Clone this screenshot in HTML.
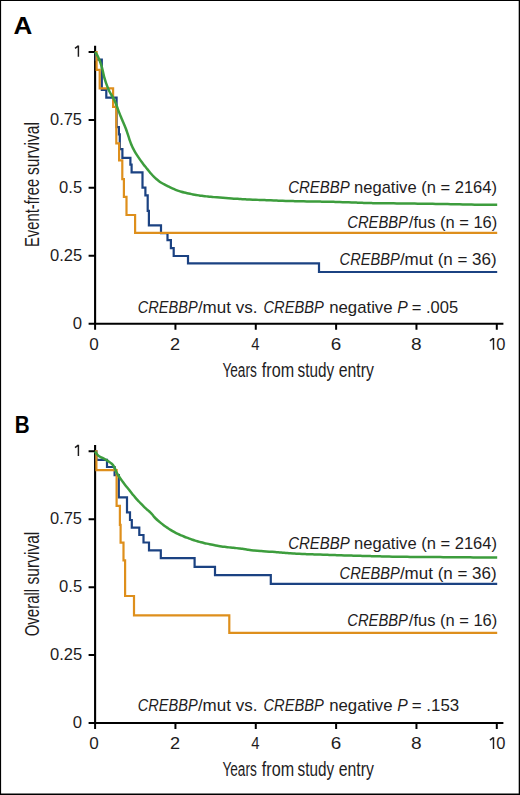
<!DOCTYPE html>
<html><head><meta charset="utf-8"><title>CREBBP survival</title>
<style>
html,body{margin:0;padding:0;background:#fff;}
svg{display:block;}
text{font-family:"Liberation Sans",sans-serif;fill:#1e1c1d;}
.ax{font-size:16.3px;}
.ti{font-size:19.6px;}
.lg{font-size:16.4px;}
.pl{font-size:24.3px;font-weight:bold;fill:#000;}
</style></head>
<body>
<svg width="520" height="795" viewBox="0 0 520 795">
<rect x="0" y="0" width="520" height="795" fill="#fff"/>
<path d="M95.1 45.8V324.7M94.10 323.7H503.4" stroke="#000" stroke-width="2.1" fill="none"/>
<path d="M88.6 52H95.1M88.6 119.92H95.1M88.6 187.85H95.1M88.6 255.77H95.1M88.6 323.7H95.1M95.1 323.7V329.8M175.44 323.7V329.8M255.78 323.7V329.8M336.12 323.7V329.8M416.46 323.7V329.8M496.8 323.7V329.8" stroke="#000" stroke-width="2" fill="none"/>
<text x="49.99" y="124.8" class="ax" textLength="32.02" lengthAdjust="spacingAndGlyphs">0.75</text>
<text x="59.08" y="192.7" class="ax" textLength="23.07" lengthAdjust="spacingAndGlyphs">0.5</text>
<text x="49.98" y="260.6" class="ax" textLength="32.23" lengthAdjust="spacingAndGlyphs">0.25</text>
<text x="72.67" y="328.5" class="ax" textLength="9.29" lengthAdjust="spacingAndGlyphs">0</text>
<text x="89.35" y="349.9" class="ax" textLength="9.52" lengthAdjust="spacingAndGlyphs">0</text>
<text x="170.09" y="349.9" class="ax" textLength="10.1" lengthAdjust="spacingAndGlyphs">2</text>
<text x="251.3" y="349.9" class="ax" textLength="8.26" lengthAdjust="spacingAndGlyphs">4</text>
<text x="330.74" y="349.9" class="ax" textLength="10.49" lengthAdjust="spacingAndGlyphs">6</text>
<text x="411.13" y="349.9" class="ax" textLength="10.62" lengthAdjust="spacingAndGlyphs">8</text>
<text x="496.29" y="349.9" class="ax" textLength="9.18" lengthAdjust="spacingAndGlyphs">0</text>
<path d="M75 48.4L78.3 45.9M78.4 45.5V56.8M489.9 340.8L493.3 338.3M493.5 337.9V349.7" transform="translate(0 0)" stroke="#1e1c1d" stroke-width="1.45" fill="none"/>
<path d="M95.1 445.1V724M94.10 723H503.4" stroke="#000" stroke-width="2.1" fill="none"/>
<path d="M88.6 451.3H95.1M88.6 519.23H95.1M88.6 587.15H95.1M88.6 655.08H95.1M88.6 723H95.1M95.1 723V729.1M175.44 723V729.1M255.78 723V729.1M336.12 723V729.1M416.46 723V729.1M496.8 723V729.1" stroke="#000" stroke-width="2" fill="none"/>
<text x="49.99" y="524.1" class="ax" textLength="32.02" lengthAdjust="spacingAndGlyphs">0.75</text>
<text x="59.08" y="592" class="ax" textLength="23.07" lengthAdjust="spacingAndGlyphs">0.5</text>
<text x="49.98" y="659.9" class="ax" textLength="32.23" lengthAdjust="spacingAndGlyphs">0.25</text>
<text x="72.67" y="727.8" class="ax" textLength="9.29" lengthAdjust="spacingAndGlyphs">0</text>
<text x="89.35" y="749.2" class="ax" textLength="9.52" lengthAdjust="spacingAndGlyphs">0</text>
<text x="170.09" y="749.2" class="ax" textLength="10.1" lengthAdjust="spacingAndGlyphs">2</text>
<text x="251.3" y="749.2" class="ax" textLength="8.26" lengthAdjust="spacingAndGlyphs">4</text>
<text x="330.74" y="749.2" class="ax" textLength="10.49" lengthAdjust="spacingAndGlyphs">6</text>
<text x="411.13" y="749.2" class="ax" textLength="10.62" lengthAdjust="spacingAndGlyphs">8</text>
<text x="496.29" y="749.2" class="ax" textLength="9.18" lengthAdjust="spacingAndGlyphs">0</text>
<path d="M75 48.4L78.3 45.9M78.4 45.5V56.8M489.9 340.8L493.3 338.3M493.5 337.9V349.7" transform="translate(0 399.3)" stroke="#1e1c1d" stroke-width="1.45" fill="none"/>
<path d="M95.1 52H95.8V59.6H101.8V90H106.3V97.6H116.6V127.2H118.9V134.4H119.8V149.2H122.4V157.8H130.4V164.6H131.6V172.3H142.5V187.7H145.4V195.4H147.7V210.8H148.9V225.4H161V233.2H167.5V240.2H170.9V248.1H173.7V256H188V263.3H319V272H497.2" stroke="#1b4282" stroke-width="2.2" fill="none"/>
<path d="M95.1 52H96.6V69.8H99.7V88.3H113.1V106.8H116.3V143.3H119.1V160.3H122.3V179.2H123.9V196.9H126.5V215H135.1V232.9H497.2" stroke="#de8f1c" stroke-width="2.2" fill="none"/>
<path d="M95.1 52C95.38 52.4 96.26 53.58 96.77 54.42C97.28 55.26 97.74 56.16 98.16 57.06C98.59 57.96 98.96 58.89 99.33 59.82C99.69 60.75 100.04 61.69 100.37 62.63C100.7 63.57 101.02 64.52 101.32 65.48C101.61 66.43 101.89 67.39 102.15 68.36C102.4 69.32 102.64 70.29 102.87 71.27C103.09 72.24 103.29 73.22 103.51 74.2C103.74 75.17 103.95 76.15 104.21 77.11C104.47 78.08 104.75 79.03 105.05 79.99C105.34 80.94 105.66 81.89 105.98 82.84C106.3 83.79 106.64 84.73 106.99 85.66C107.34 86.6 107.7 87.54 108.09 88.45C108.48 89.37 108.89 90.29 109.33 91.18C109.78 92.07 110.26 92.94 110.76 93.81C111.25 94.68 111.8 95.52 112.3 96.38C112.81 97.24 113.32 98.1 113.78 98.98C114.25 99.87 114.68 100.77 115.08 101.68C115.49 102.59 115.86 103.52 116.22 104.46C116.58 105.39 116.91 106.33 117.25 107.27C117.58 108.21 117.9 109.16 118.24 110.1C118.58 111.04 118.93 111.98 119.3 112.91C119.66 113.84 120.05 114.76 120.43 115.69C120.8 116.61 121.18 117.54 121.56 118.46C121.95 119.39 122.33 120.31 122.72 121.23C123.11 122.15 123.51 123.07 123.9 123.99C124.3 124.91 124.7 125.83 125.07 126.75C125.45 127.68 125.82 128.6 126.17 129.54C126.52 130.48 126.83 131.43 127.15 132.37C127.47 133.32 127.78 134.27 128.09 135.23C128.4 136.18 128.7 137.13 129.02 138.08C129.33 139.03 129.64 139.98 129.97 140.92C130.3 141.86 130.63 142.81 131 143.74C131.37 144.67 131.76 145.59 132.17 146.5C132.58 147.4 133.02 148.3 133.49 149.19C133.95 150.07 134.44 150.94 134.94 151.81C135.45 152.67 135.97 153.52 136.5 154.37C137.04 155.21 137.59 156.05 138.14 156.88C138.7 157.71 139.27 158.53 139.84 159.35C140.41 160.17 140.99 160.99 141.58 161.8C142.16 162.61 142.75 163.42 143.35 164.22C143.96 165.01 144.57 165.8 145.2 166.58C145.82 167.36 146.48 168.12 147.11 168.89C147.75 169.66 148.39 170.43 149.02 171.2C149.65 171.98 150.26 172.77 150.91 173.53C151.56 174.29 152.21 175.04 152.9 175.76C153.6 176.48 154.33 177.16 155.06 177.84C155.79 178.52 156.53 179.2 157.3 179.83C158.07 180.47 158.86 181.08 159.67 181.66C160.49 182.23 161.33 182.76 162.19 183.27C163.05 183.78 163.94 184.23 164.82 184.69C165.71 185.16 166.61 185.6 167.5 186.05C168.4 186.49 169.29 186.94 170.19 187.38C171.09 187.81 171.99 188.24 172.91 188.65C173.82 189.05 174.74 189.43 175.67 189.8C176.6 190.17 177.54 190.52 178.48 190.85C179.43 191.18 180.37 191.5 181.33 191.79C182.29 192.07 183.25 192.32 184.23 192.56C185.2 192.8 186.17 193.01 187.15 193.21C188.13 193.42 189.11 193.62 190.09 193.82C191.07 194.01 192.05 194.21 193.03 194.4C194.02 194.58 195 194.76 195.99 194.93C196.97 195.09 197.96 195.24 198.95 195.39C199.94 195.54 200.93 195.69 201.92 195.82C202.91 195.96 203.9 196.08 204.89 196.2C205.89 196.31 206.88 196.42 207.88 196.52C208.87 196.63 209.87 196.74 210.86 196.84C211.86 196.94 212.85 197.03 213.85 197.12C214.84 197.21 215.84 197.29 216.84 197.37C217.83 197.45 218.83 197.53 219.83 197.61C220.82 197.69 221.82 197.77 222.82 197.85C223.81 197.93 224.81 198.01 225.81 198.09C226.8 198.17 227.8 198.25 228.8 198.32C229.8 198.4 230.79 198.46 231.79 198.52C232.79 198.59 233.79 198.64 234.79 198.7C235.79 198.76 236.78 198.82 237.78 198.87C238.78 198.93 239.78 198.99 240.78 199.05C241.78 199.1 242.77 199.16 243.77 199.22C244.77 199.27 245.77 199.33 246.77 199.38C247.77 199.43 248.77 199.47 249.76 199.51C250.76 199.56 251.76 199.6 252.76 199.64C253.76 199.68 254.76 199.72 255.76 199.76C256.76 199.8 257.76 199.84 258.76 199.88C259.76 199.92 260.76 199.96 261.76 200C262.75 200.04 263.75 200.08 264.75 200.12C265.75 200.16 266.75 200.2 267.75 200.24C268.75 200.28 269.75 200.31 270.75 200.35C271.75 200.39 272.75 200.43 273.75 200.47C274.75 200.51 275.74 200.54 276.74 200.58C277.74 200.62 278.74 200.66 279.74 200.7C280.74 200.74 281.74 200.78 282.74 200.81C283.74 200.85 284.74 200.88 285.74 200.91C286.74 200.94 287.74 200.96 288.74 200.99C289.74 201.01 290.74 201.04 291.74 201.06C292.74 201.08 293.74 201.11 294.74 201.13C295.74 201.16 296.74 201.18 297.74 201.2C298.73 201.23 299.73 201.25 300.73 201.27C301.73 201.3 302.73 201.32 303.73 201.34C304.73 201.37 305.73 201.39 306.73 201.41C307.73 201.43 308.73 201.44 309.73 201.46C310.73 201.47 311.73 201.49 312.73 201.5C313.73 201.52 314.73 201.53 315.73 201.55C316.73 201.57 317.73 201.58 318.73 201.6C319.73 201.61 320.73 201.63 321.73 201.64C322.73 201.66 323.73 201.67 324.73 201.69C325.73 201.7 326.73 201.72 327.73 201.73C328.73 201.75 329.73 201.76 330.73 201.79C331.73 201.81 332.73 201.83 333.73 201.86C334.73 201.89 335.73 201.93 336.73 201.96C337.73 201.99 338.73 202.03 339.73 202.06C340.73 202.1 341.73 202.13 342.72 202.16C343.72 202.2 344.72 202.23 345.72 202.26C346.72 202.3 347.72 202.33 348.72 202.37C349.72 202.4 350.72 202.43 351.72 202.47C352.72 202.5 353.72 202.54 354.72 202.57C355.72 202.6 356.72 202.64 357.72 202.67C358.72 202.71 359.72 202.74 360.71 202.78C361.71 202.81 362.71 202.85 363.71 202.88C364.71 202.92 365.71 202.95 366.71 202.99C367.71 203.02 368.71 203.05 369.71 203.07C370.71 203.1 371.71 203.11 372.71 203.13C373.71 203.14 374.71 203.15 375.71 203.16C376.71 203.17 377.71 203.18 378.71 203.19C379.71 203.2 380.71 203.21 381.71 203.22C382.71 203.24 383.71 203.25 384.71 203.26C385.71 203.27 386.71 203.28 387.71 203.29C388.71 203.3 389.71 203.31 390.71 203.32C391.71 203.33 392.71 203.34 393.71 203.35C394.71 203.36 395.71 203.37 396.71 203.38C397.71 203.4 398.71 203.41 399.71 203.42C400.71 203.43 401.71 203.44 402.71 203.45C403.71 203.46 404.71 203.47 405.71 203.48C406.71 203.49 407.71 203.5 408.71 203.52C409.71 203.53 410.71 203.54 411.71 203.56C412.71 203.57 413.71 203.58 414.71 203.6C415.71 203.61 416.71 203.62 417.71 203.64C418.71 203.65 419.71 203.66 420.71 203.68C421.71 203.69 422.71 203.7 423.71 203.72C424.71 203.73 425.71 203.74 426.71 203.76C427.71 203.77 428.71 203.78 429.71 203.8C430.71 203.81 431.71 203.82 432.71 203.84C433.71 203.85 434.71 203.86 435.71 203.88C436.71 203.89 437.71 203.9 438.71 203.92C439.71 203.93 440.71 203.94 441.71 203.96C442.71 203.97 443.71 203.98 444.71 204C445.71 204.02 446.71 204.04 447.71 204.07C448.71 204.09 449.71 204.11 450.7 204.14C451.7 204.16 452.7 204.18 453.7 204.21C454.7 204.23 455.7 204.26 456.7 204.28C457.7 204.3 458.7 204.33 459.7 204.35C460.7 204.38 461.7 204.4 462.7 204.42C463.7 204.45 464.7 204.47 465.7 204.5C466.7 204.52 467.7 204.55 468.7 204.56C469.7 204.58 470.7 204.6 471.7 204.61C472.7 204.62 473.7 204.63 474.7 204.63C475.7 204.64 476.7 204.65 477.7 204.66C478.7 204.66 479.7 204.67 480.7 204.68C481.7 204.69 482.7 204.69 483.7 204.7C484.7 204.71 485.7 204.72 486.7 204.72C487.7 204.73 488.7 204.74 489.7 204.74C490.7 204.75 491.7 204.76 492.7 204.77C493.7 204.77 494.95 204.78 495.7 204.79C496.45 204.79 496.95 204.8 497.2 204.8" stroke="#3d9d3d" stroke-width="2.5" fill="none" stroke-linejoin="round"/>
<path d="M95.1 451.3H96.4V459.8H107V467H114.6V475.2H118.8V497.3H127V512.4H130V520H131.8V527.6H139.3V535H143.5V542.5H149V550.4H160.8V558.1H194.6V566.8H215V575.1H270.8V583.9H497.2" stroke="#1b4282" stroke-width="2.2" fill="none"/>
<path d="M95.1 451.3H96.4V470.2H116.6V505.9H119.9V524.8H120.6V542.6H123.5V560.4H125.1V596H134V615.3H229.3V632.9H497.2" stroke="#de8f1c" stroke-width="2.2" fill="none"/>
<path d="M95.1 451.3C95.35 451.72 95.99 453.07 96.58 453.84C97.18 454.6 97.89 455.29 98.67 455.88C99.44 456.47 100.36 456.9 101.23 457.36C102.11 457.82 103.04 458.19 103.92 458.65C104.8 459.12 105.65 459.64 106.5 460.16C107.35 460.68 108.2 461.22 109.02 461.79C109.84 462.35 110.69 462.9 111.43 463.55C112.17 464.2 112.89 464.89 113.46 465.68C114.02 466.46 114.43 467.37 114.83 468.27C115.23 469.16 115.48 470.15 115.88 471.05C116.28 471.96 116.74 472.84 117.23 473.7C117.72 474.56 118.29 475.39 118.84 476.22C119.39 477.06 119.96 477.88 120.53 478.7C121.11 479.52 121.69 480.34 122.27 481.15C122.86 481.96 123.44 482.77 124.04 483.57C124.64 484.37 125.26 485.16 125.89 485.94C126.51 486.72 127.16 487.48 127.79 488.26C128.42 489.03 129.05 489.81 129.68 490.59C130.3 491.37 130.91 492.17 131.53 492.95C132.15 493.74 132.75 494.54 133.39 495.31C134.02 496.08 134.67 496.84 135.33 497.6C135.99 498.35 136.67 499.08 137.35 499.81C138.02 500.55 138.7 501.29 139.39 502.01C140.08 502.74 140.78 503.45 141.48 504.17C142.18 504.88 142.88 505.59 143.6 506.29C144.31 506.99 145.02 507.69 145.76 508.37C146.49 509.05 147.26 509.7 148.01 510.35C148.76 511.01 149.55 511.64 150.26 512.33C150.98 513.02 151.65 513.75 152.3 514.5C152.95 515.25 153.51 516.09 154.15 516.85C154.8 517.6 155.47 518.33 156.19 519.02C156.91 519.71 157.69 520.34 158.45 520.99C159.21 521.63 159.98 522.27 160.75 522.91C161.52 523.55 162.28 524.2 163.07 524.82C163.86 525.43 164.66 526.02 165.49 526.59C166.31 527.15 167.16 527.68 168 528.23C168.84 528.77 169.68 529.31 170.53 529.84C171.37 530.38 172.21 530.93 173.07 531.44C173.92 531.95 174.79 532.45 175.68 532.9C176.57 533.35 177.49 533.74 178.4 534.14C179.32 534.55 180.24 534.93 181.16 535.32C182.08 535.72 183 536.11 183.93 536.49C184.85 536.87 185.78 537.25 186.71 537.61C187.64 537.98 188.58 538.32 189.52 538.67C190.45 539.02 191.39 539.37 192.33 539.71C193.28 540.04 194.22 540.37 195.17 540.67C196.13 540.96 197.1 541.21 198.06 541.47C199.03 541.72 200 541.96 200.97 542.21C201.94 542.45 202.91 542.7 203.88 542.94C204.85 543.18 205.83 543.42 206.8 543.64C207.78 543.86 208.75 544.07 209.73 544.27C210.71 544.47 211.7 544.66 212.68 544.85C213.66 545.04 214.64 545.24 215.62 545.42C216.61 545.61 217.59 545.8 218.57 545.97C219.56 546.14 220.55 546.29 221.54 546.43C222.53 546.57 223.52 546.69 224.52 546.81C225.51 546.94 226.5 547.06 227.49 547.18C228.49 547.3 229.48 547.42 230.48 547.53C231.47 547.64 232.47 547.73 233.46 547.83C234.46 547.93 235.45 548.02 236.45 548.12C237.44 548.22 238.44 548.31 239.44 548.41C240.43 548.51 241.43 548.6 242.42 548.74C243.41 548.87 244.39 549.04 245.38 549.21C246.36 549.39 247.34 549.61 248.32 549.78C249.3 549.96 250.29 550.12 251.28 550.24C252.27 550.37 253.27 550.44 254.27 550.53C255.26 550.62 256.26 550.7 257.26 550.78C258.25 550.86 259.25 550.94 260.25 551.02C261.25 551.1 262.24 551.19 263.24 551.26C264.24 551.34 265.24 551.41 266.23 551.47C267.23 551.54 268.23 551.61 269.23 551.68C270.23 551.74 271.22 551.81 272.22 551.87C273.22 551.94 274.22 552.01 275.22 552.08C276.22 552.15 277.21 552.23 278.21 552.31C279.21 552.39 280.2 552.48 281.2 552.56C282.2 552.65 283.19 552.74 284.19 552.83C285.19 552.92 286.18 553.01 287.18 553.09C288.18 553.18 289.17 553.27 290.17 553.34C291.17 553.41 292.17 553.47 293.16 553.53C294.16 553.59 295.16 553.64 296.16 553.7C297.16 553.75 298.16 553.8 299.16 553.85C300.16 553.89 301.16 553.93 302.16 553.97C303.16 554.01 304.16 554.04 305.16 554.08C306.16 554.12 307.16 554.15 308.16 554.19C309.16 554.22 310.16 554.26 311.16 554.29C312.16 554.33 313.16 554.36 314.16 554.4C315.16 554.43 316.16 554.47 317.16 554.5C318.16 554.53 319.15 554.57 320.15 554.6C321.15 554.64 322.15 554.67 323.15 554.7C324.15 554.73 325.15 554.77 326.15 554.8C327.15 554.83 328.15 554.86 329.15 554.89C330.15 554.93 331.15 554.96 332.15 554.99C333.15 555.02 334.15 555.05 335.15 555.09C336.15 555.12 337.15 555.15 338.15 555.18C339.15 555.22 340.15 555.25 341.15 555.28C342.15 555.31 343.15 555.34 344.15 555.38C345.15 555.41 346.15 555.44 347.15 555.47C348.15 555.5 349.15 555.53 350.15 555.56C351.15 555.59 352.15 555.61 353.15 555.64C354.15 555.67 355.15 555.7 356.15 555.72C357.15 555.75 358.15 555.78 359.15 555.81C360.15 555.84 361.15 555.86 362.15 555.89C363.15 555.92 364.15 555.95 365.15 555.97C366.15 556 367.15 556.03 368.15 556.06C369.15 556.08 370.15 556.11 371.15 556.14C372.15 556.17 373.15 556.19 374.15 556.22C375.15 556.25 376.15 556.27 377.15 556.3C378.16 556.32 379.16 556.35 380.16 556.37C381.16 556.39 382.16 556.41 383.16 556.43C384.16 556.46 385.16 556.48 386.16 556.5C387.16 556.52 388.16 556.54 389.16 556.56C390.16 556.59 391.16 556.61 392.16 556.63C393.16 556.65 394.16 556.67 395.16 556.69C396.16 556.72 397.16 556.74 398.16 556.76C399.16 556.78 400.16 556.79 401.16 556.8C402.16 556.82 403.16 556.82 404.16 556.83C405.16 556.84 406.16 556.85 407.16 556.85C408.16 556.86 409.16 556.87 410.16 556.88C411.16 556.88 412.16 556.89 413.17 556.9C414.17 556.91 415.17 556.91 416.17 556.92C417.17 556.93 418.17 556.94 419.17 556.94C420.17 556.95 421.17 556.96 422.17 556.97C423.17 556.97 424.17 556.98 425.17 556.99C426.17 557 427.17 557 428.17 557.01C429.17 557.02 430.17 557.03 431.17 557.03C432.17 557.04 433.17 557.05 434.17 557.06C435.17 557.06 436.17 557.07 437.18 557.08C438.18 557.09 439.18 557.09 440.18 557.1C441.18 557.11 442.18 557.12 443.18 557.13C444.18 557.14 445.18 557.15 446.18 557.15C447.18 557.16 448.18 557.17 449.18 557.18C450.18 557.19 451.18 557.2 452.18 557.21C453.18 557.22 454.18 557.22 455.18 557.23C456.18 557.24 457.18 557.25 458.18 557.26C459.18 557.27 460.18 557.28 461.19 557.29C462.19 557.29 463.19 557.3 464.19 557.31C465.19 557.32 466.19 557.33 467.19 557.34C468.19 557.35 469.19 557.36 470.19 557.36C471.19 557.37 472.19 557.38 473.19 557.39C474.19 557.4 475.19 557.41 476.19 557.42C477.19 557.43 478.19 557.43 479.19 557.44C480.19 557.45 481.19 557.46 482.19 557.47C483.19 557.48 484.19 557.49 485.2 557.5C486.2 557.5 487.2 557.51 488.2 557.52C489.2 557.53 490.2 557.54 491.2 557.55C492.2 557.56 493.2 557.57 494.2 557.57C495.2 557.58 496.7 557.6 497.2 557.6" stroke="#3d9d3d" stroke-width="2.5" fill="none" stroke-linejoin="round"/>
<text transform="translate(38.9 247.01) rotate(-90)" x="0" y="0" class="ti" textLength="68.11" lengthAdjust="spacingAndGlyphs">Event-free</text>
<text transform="translate(38.9 175) rotate(-90)" x="0" y="0" class="ti" textLength="52.93" lengthAdjust="spacingAndGlyphs">survival</text>
<text transform="translate(39.3 636.37) rotate(-90)" x="0" y="0" class="ti" textLength="47.59" lengthAdjust="spacingAndGlyphs">Overall</text>
<text transform="translate(39.3 584.39) rotate(-90)" x="0" y="0" class="ti" textLength="52.62" lengthAdjust="spacingAndGlyphs">survival</text>
<text x="222.4" y="376.7" class="ti" textLength="34.47" lengthAdjust="spacingAndGlyphs">Years</text>
<text x="261.8" y="376.7" class="ti" textLength="32.28" lengthAdjust="spacingAndGlyphs">from</text>
<text x="297.52" y="376.7" class="ti" textLength="36.56" lengthAdjust="spacingAndGlyphs">study</text>
<text x="338.69" y="376.7" class="ti" textLength="35.16" lengthAdjust="spacingAndGlyphs">entry</text>
<text x="222.4" y="776.1" class="ti" textLength="34.47" lengthAdjust="spacingAndGlyphs">Years</text>
<text x="261.8" y="776.1" class="ti" textLength="32.28" lengthAdjust="spacingAndGlyphs">from</text>
<text x="297.52" y="776.1" class="ti" textLength="36.56" lengthAdjust="spacingAndGlyphs">study</text>
<text x="338.69" y="776.1" class="ti" textLength="35.16" lengthAdjust="spacingAndGlyphs">entry</text>
<text x="13.4" y="33.7" class="pl" textLength="18.8" lengthAdjust="spacingAndGlyphs">A</text>
<text x="14.7" y="432.6" class="pl" textLength="14.9" lengthAdjust="spacingAndGlyphs">B</text>
<text x="288.29" y="193" class="lg" font-style="italic" textLength="61.48" lengthAdjust="spacingAndGlyphs">CREBBP</text>
<text x="354.09" y="193" class="lg" textLength="142.92" lengthAdjust="spacingAndGlyphs">negative (n = 2164)</text>
<text x="347.3" y="227.5" class="lg" font-style="italic" textLength="60.67" lengthAdjust="spacingAndGlyphs">CREBBP</text>
<text x="408.8" y="227.5" class="lg" textLength="88.43" lengthAdjust="spacingAndGlyphs">/fus (n = 16)</text>
<text x="339.61" y="264.5" class="lg" font-style="italic" textLength="60.15" lengthAdjust="spacingAndGlyphs">CREBBP</text>
<text x="399.9" y="264.5" class="lg" textLength="96.79" lengthAdjust="spacingAndGlyphs">/mut (n = 36)</text>
<text x="137.81" y="313.3" class="lg" font-style="italic" textLength="59.85" lengthAdjust="spacingAndGlyphs">CREBBP</text>
<text x="197.9" y="313.3" class="lg" textLength="59.54" lengthAdjust="spacingAndGlyphs">/mut vs.</text>
<text x="263.5" y="313.3" class="lg" font-style="italic" textLength="60.36" lengthAdjust="spacingAndGlyphs">CREBBP</text>
<text x="329.18" y="313.3" class="lg" textLength="63.43" lengthAdjust="spacingAndGlyphs">negative</text>
<text x="397.24" y="313.3" class="lg" font-style="italic" textLength="10.5" lengthAdjust="spacingAndGlyphs">P</text>
<text x="411.79" y="313.3" class="lg" textLength="46.34" lengthAdjust="spacingAndGlyphs">= .005</text>
<text x="288.29" y="548.7" class="lg" font-style="italic" textLength="61.48" lengthAdjust="spacingAndGlyphs">CREBBP</text>
<text x="354.09" y="548.7" class="lg" textLength="142.92" lengthAdjust="spacingAndGlyphs">negative (n = 2164)</text>
<text x="347.3" y="625.8" class="lg" font-style="italic" textLength="60.67" lengthAdjust="spacingAndGlyphs">CREBBP</text>
<text x="408.8" y="625.8" class="lg" textLength="88.43" lengthAdjust="spacingAndGlyphs">/fus (n = 16)</text>
<text x="339.61" y="578.5" class="lg" font-style="italic" textLength="60.15" lengthAdjust="spacingAndGlyphs">CREBBP</text>
<text x="399.9" y="578.5" class="lg" textLength="96.79" lengthAdjust="spacingAndGlyphs">/mut (n = 36)</text>
<text x="137.81" y="711.2" class="lg" font-style="italic" textLength="59.85" lengthAdjust="spacingAndGlyphs">CREBBP</text>
<text x="197.9" y="711.2" class="lg" textLength="59.54" lengthAdjust="spacingAndGlyphs">/mut vs.</text>
<text x="263.5" y="711.2" class="lg" font-style="italic" textLength="60.36" lengthAdjust="spacingAndGlyphs">CREBBP</text>
<text x="329.18" y="711.2" class="lg" textLength="63.43" lengthAdjust="spacingAndGlyphs">negative</text>
<text x="397.24" y="711.2" class="lg" font-style="italic" textLength="10.5" lengthAdjust="spacingAndGlyphs">P</text>
<text x="411.77" y="711.2" class="lg" textLength="47.39" lengthAdjust="spacingAndGlyphs">= .153</text>
<path d="M0 0H520V795H0ZM1.1 1V793.6H518.7V1Z" fill="#000" fill-rule="evenodd"/>
</svg>
</body></html>
